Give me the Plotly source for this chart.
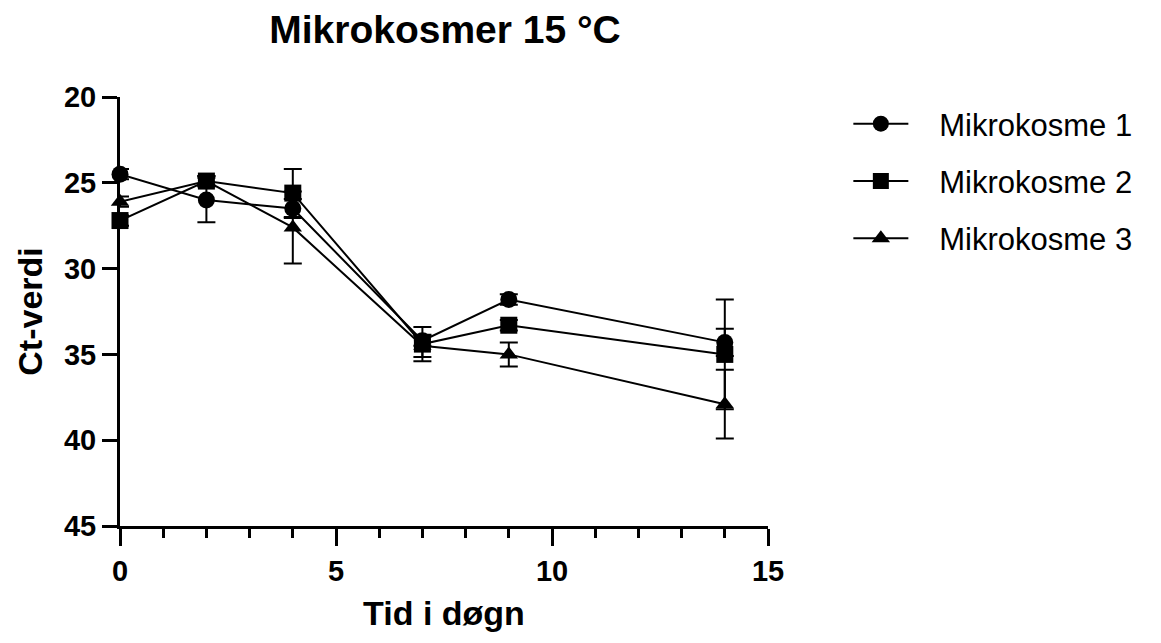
import plotly.graph_objects as go

days = [0, 2, 4, 7, 9, 14]
names = ["Mikrokosme 1", "Mikrokosme 2", "Mikrokosme 3"]
m1 = [24.5, 26.0, 26.5, 34.2, 31.8, 34.3]
m2 = [27.2, 24.9, 25.6, 34.4, 33.3, 35.0]
m3 = [26.1, 24.9, 27.6, 34.5, 35.0, 37.9]
e1 = [0.3, 1.3, 0.55, 0.3, 0.3, 0.8]
e2 = [0.3, 0.3, 1.4, 1.0, 0.3, 3.2]
e3 = [0.3, 0.3, 2.1, 0.65, 0.7, 2.0]
symbols = ["circle", "square", "triangle-up"]
sizes = [17, 17, 16]

FONT = "Liberation Sans, Arial, sans-serif"
GAP = "\u00a0\u00a0\u00a0"
fig = go.Figure()
for i, (n, y, e) in enumerate(zip(names, [m1, m2, m3], [e1, e2, e3])):
    fig.add_trace(go.Scatter(
        x=days, y=y, name=GAP + n, mode="lines+markers",
        line=dict(color="black", width=2),
        marker=dict(symbol=symbols[i], size=sizes[i], color="black"),
        error_y=dict(type="data", array=e, visible=True, color="black", thickness=2, width=9),
        cliponaxis=False, legendgroup=n,
    ))

W, H = 1161, 643
fig.update_layout(
    width=W, height=H,
    paper_bgcolor="white", plot_bgcolor="white",
    margin=dict(l=112, r=401, t=89, b=125),
    title=dict(text="<b>Mikrokosmer 15 °C</b>", x=437/W, xanchor="center",
               y=1-21/H, yanchor="middle", font=dict(family=FONT, size=39, color="black")),
    font=dict(family=FONT, color="black"),
    legend=dict(x=1.124, y=1.0, xanchor="left", yanchor="top",
                font=dict(family=FONT, size=31, color="black"),
                tracegroupgap=14, itemwidth=55, bgcolor="rgba(0,0,0,0)"),
    showlegend=True,
)
fig.update_xaxes(
    range=[0, 15], tickvals=[0, 5, 10, 15], ticktext=["<b>0</b>", "<b>5</b>", "<b>10</b>", "<b>15</b>"],
    showgrid=False, zeroline=False, showline=True, linecolor="black", linewidth=3,
    ticks="outside", ticklen=17, tickwidth=3, tickcolor="black",
    minor=dict(dtick=1, ticks="outside", ticklen=9, tickwidth=3, tickcolor="black", showgrid=False),
    tickfont=dict(family=FONT, size=29, color="black"),
    title=dict(text="<b>Tid i døgn</b>", font=dict(family=FONT, size=34, color="black"), standoff=16),
)
fig.update_yaxes(
    range=[45, 20], tickvals=[20, 25, 30, 35, 40, 45],
    ticktext=["<b>20</b>", "<b>25</b>", "<b>30</b>", "<b>35</b>", "<b>40</b>", "<b>45</b>"],
    showgrid=False, zeroline=False, showline=True, linecolor="black", linewidth=3,
    ticks="outside", ticklen=15, tickwidth=3, tickcolor="black",
    tickfont=dict(family=FONT, size=29, color="black"),
    title=dict(text="<b>Ct-verdi</b>", font=dict(family=FONT, size=34, color="black"), standoff=12),
)
fig.write_html("out.html")
